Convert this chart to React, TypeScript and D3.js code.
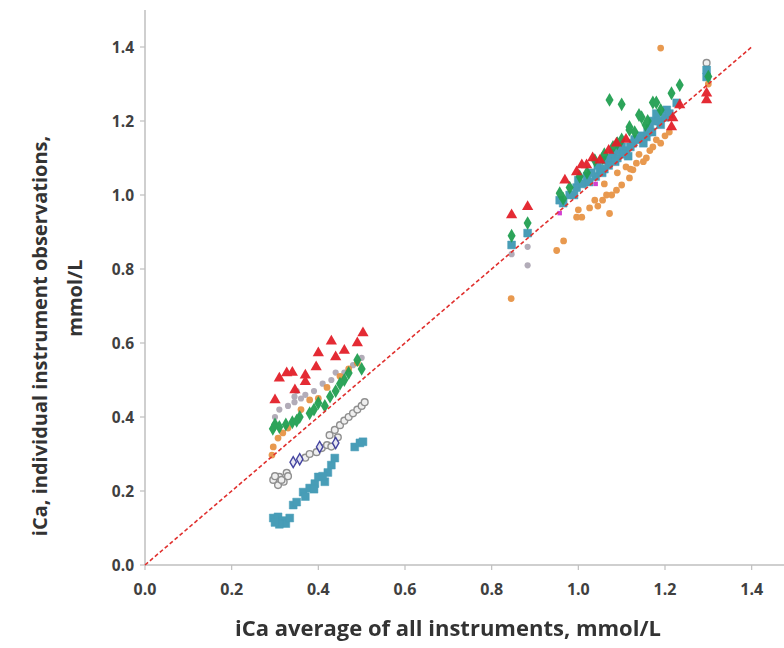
import React from "react";
import * as d3 from "d3";

type P = [number, number];

const xTicks = [0, 0.2, 0.4, 0.6, 0.8, 1.0, 1.2, 1.4];
const yTicks = [0, 0.2, 0.4, 0.6, 0.8, 1.0, 1.2, 1.4];
const identityLine: P[] = [[0, 0], [1.4, 1.4]];

const tealPts: P[] = [
  [0.296, 0.127], [0.307, 0.13], [0.318, 0.12], [0.325, 0.112], [0.334, 0.127], [0.31, 0.11], [0.30, 0.115],
  [0.342, 0.162], [0.35, 0.17], [0.365, 0.197], [0.38, 0.208], [0.392, 0.22], [0.40, 0.238],
  [0.415, 0.225], [0.422, 0.25], [0.43, 0.27], [0.438, 0.289], [0.484, 0.319], [0.496, 0.33], [0.503, 0.333],
  [0.39, 0.205], [0.41, 0.24], [0.37, 0.185],
  [0.846, 0.865], [0.883, 0.897], [0.957, 0.986], [0.965, 0.978], [0.98, 1.0], [0.996, 1.02], [1.0, 1.04],
  [1.02, 1.05], [1.04, 1.05], [1.05, 1.07], [1.065, 1.094], [1.07, 1.08], [1.08, 1.113], [1.09, 1.10],
  [1.10, 1.13], [1.11, 1.12], [1.126, 1.14], [1.14, 1.15], [1.157, 1.157], [1.165, 1.18], [1.172, 1.2],
  [1.18, 1.22], [1.19, 1.19], [1.204, 1.23], [1.227, 1.249], [1.296, 1.319], [1.296, 1.338],
  [0.99, 1.0], [1.01, 1.03], [1.03, 1.06], [1.045, 1.08], [1.06, 1.07], [1.075, 1.1], [1.085, 1.09],
  [1.095, 1.12], [1.105, 1.11], [1.12, 1.13], [1.13, 1.15], [1.145, 1.16], [1.15, 1.14], [1.17, 1.17],
  [1.185, 1.2], [1.2, 1.21], [1.21, 1.22], [1.025, 1.035], [1.055, 1.06], [1.115, 1.105], [1.16, 1.17],
];

const grayOpenPts: P[] = [
  [0.296, 0.23], [0.31, 0.238], [0.327, 0.249], [0.307, 0.216], [0.32, 0.225], [0.37, 0.29], [0.38, 0.30],
  [0.396, 0.305], [0.408, 0.316], [0.42, 0.324], [0.426, 0.351], [0.438, 0.365], [0.45, 0.378], [0.46, 0.39],
  [0.47, 0.40], [0.48, 0.41], [0.49, 0.42], [0.50, 0.43], [0.507, 0.44], [0.30, 0.24], [0.315, 0.23],
  [0.33, 0.24], [0.43, 0.32], [0.445, 0.345], [1.296, 1.357],
];

const purpleOpenPts: P[] = [[0.342, 0.278], [0.357, 0.286], [0.403, 0.319], [0.44, 0.33]];

const grayDotPts: P[] = [
  [0.30, 0.40], [0.31, 0.42], [0.33, 0.43], [0.345, 0.455], [0.345, 0.44], [0.35, 0.47], [0.36, 0.45],
  [0.37, 0.46], [0.39, 0.47], [0.41, 0.49], [0.43, 0.50], [0.44, 0.52], [0.46, 0.52], [0.48, 0.54], [0.50, 0.56],
  [0.883, 0.86], [0.883, 0.81], [0.846, 0.84],
];

const orangePts: P[] = [
  [0.296, 0.319], [0.293, 0.297], [0.307, 0.343], [0.318, 0.357], [0.33, 0.37], [0.38, 0.446], [0.42, 0.48],
  [0.45, 0.51], [0.49, 0.546], [0.40, 0.45], [0.36, 0.42], [0.47, 0.53],
  [0.845, 0.72], [0.95, 0.85], [0.966, 0.876], [0.996, 0.94], [1.008, 0.94], [1.026, 0.965], [1.038, 0.986],
  [1.056, 0.986], [1.072, 0.95], [1.065, 1.0], [1.077, 1.0], [1.088, 1.013], [1.10, 1.027], [1.118, 1.046],
  [1.126, 1.068], [1.11, 1.076], [1.134, 1.086], [1.157, 1.10], [1.172, 1.13], [1.18, 1.149], [1.19, 1.397],
  [1.06, 1.03], [1.09, 1.06], [1.14, 1.11], [1.20, 1.16], [1.30, 1.30], [1.0, 0.96], [1.045, 0.97],
  [1.12, 1.07], [1.15, 1.09], [1.165, 1.12], [1.19, 1.14], [1.21, 1.17],
];

const greenPts: P[] = [
  [0.295, 0.368], [0.31, 0.373], [0.325, 0.38], [0.34, 0.386], [0.357, 0.40], [0.38, 0.41], [0.39, 0.42],
  [0.40, 0.438], [0.415, 0.43], [0.427, 0.455], [0.44, 0.47], [0.45, 0.49], [0.46, 0.50], [0.47, 0.519],
  [0.49, 0.554], [0.50, 0.53], [0.30, 0.38], [0.35, 0.39],
  [0.846, 0.89], [0.883, 0.924], [0.957, 1.005], [0.98, 1.02], [1.003, 1.05], [1.02, 1.06], [1.038, 1.094],
  [1.056, 1.10], [1.08, 1.13], [1.10, 1.15], [1.118, 1.176], [1.13, 1.17], [1.146, 1.21], [1.16, 1.20],
  [1.172, 1.25], [1.072, 1.257], [1.10, 1.245], [1.18, 1.25], [1.215, 1.275], [1.234, 1.297], [1.14, 1.216],
  [1.118, 1.184], [1.30, 1.32], [0.965, 0.99], [1.06, 1.11], [1.09, 1.14], [1.155, 1.19], [1.19, 1.23],
];

const redPts: P[] = [
  [0.30, 0.446], [0.31, 0.505], [0.327, 0.519], [0.34, 0.52], [0.346, 0.473], [0.37, 0.513], [0.37, 0.495],
  [0.395, 0.535], [0.40, 0.573], [0.43, 0.605], [0.44, 0.562], [0.46, 0.58], [0.49, 0.60], [0.503, 0.627],
  [0.846, 0.946], [0.883, 0.968], [0.969, 1.04], [0.996, 1.062], [1.008, 1.081], [1.019, 1.081], [1.033, 1.1],
  [1.05, 1.094], [1.07, 1.12], [1.088, 1.14], [1.11, 1.15], [1.215, 1.184], [1.218, 1.208], [1.234, 1.243],
  [1.296, 1.275], [1.296, 1.257],
];

const magentaPts: P[] = [[0.957, 0.951], [1.04, 1.03]];

const W = 784;
const H = 648;
const x = d3.scaleLinear().domain([0, 1.5]).range([145, 795]);
const y = d3.scaleLinear().domain([0, 1.5]).range([565, 10]);

const FONT = "'Open Sans', 'Liberation Sans', sans-serif";

const sym = (type: d3.SymbolType, size: number) => d3.symbol().type(type).size(size)() as string;

const series = [
  { data: grayOpenPts, path: sym(d3.symbolCircle, 36), fill: "#efefef", stroke: "#8a8a8a", sw: 1.4, op: 0.95 },
  { data: purpleOpenPts, path: sym(d3.symbolDiamond, 36), fill: "#e6e6f2", stroke: "#3c3c9c", sw: 1.4, op: 0.95 },
  { data: tealPts, path: sym(d3.symbolSquare, 62), fill: "#3f98b4", stroke: "#3f98b4", sw: 0.5, op: 0.95 },
  { data: grayDotPts, path: sym(d3.symbolCircle, 30), fill: "#aaa3b0", stroke: "none", sw: 0, op: 0.9 },
  { data: orangePts, path: sym(d3.symbolCircle, 36), fill: "#e68e3c", stroke: "none", sw: 0, op: 0.9 },
  { data: greenPts, path: sym(d3.symbolDiamond, 56), fill: "#22a052", stroke: "none", sw: 0, op: 0.95 },
  { data: redPts, path: sym(d3.symbolTriangle, 55), fill: "#e3202a", stroke: "none", sw: 0, op: 0.95 },
  { data: magentaPts, path: sym(d3.symbolSquare, 20), fill: "#d23fd0", stroke: "none", sw: 0, op: 1 },
];

export default function App() {
  const line = d3.line<P>().x((d) => x(d[0])).y((d) => y(d[1]));
  return (
    <svg width={W} height={H} style={{ position: "absolute", left: 0, top: 0, background: "#fff" }}>
      <line x1={x(0)} x2={784} y1={y(0)} y2={y(0)} stroke="#bfbfbf" strokeWidth={1.5} />
      <line x1={x(0)} x2={x(0)} y1={y(0)} y2={y(1.5)} stroke="#bfbfbf" strokeWidth={1.5} />
      {xTicks.map((t) => (
        <g key={"xt" + t}>
          <line x1={x(t)} x2={x(t)} y1={y(0)} y2={y(0) + 5} stroke="#bfbfbf" strokeWidth={1.2} />
          <text x={x(t)} y={y(0) + 30} textAnchor="middle" fontFamily={FONT} fontWeight={700} fontSize={16} fill="#404040">
            {t.toFixed(1)}
          </text>
        </g>
      ))}
      {yTicks.map((t) => (
        <g key={"yt" + t}>
          <line x1={x(0) - 5} x2={x(0)} y1={y(t)} y2={y(t)} stroke="#bfbfbf" strokeWidth={1.2} />
          <text x={x(0) - 11} y={y(t) + 5.5} textAnchor="end" fontFamily={FONT} fontWeight={700} fontSize={15.5} fill="#404040">
            {t.toFixed(1)}
          </text>
        </g>
      ))}
      {series.map((s, i) => (
        <g key={"s" + i} opacity={s.op}>
          {s.data.map((d, j) => (
            <path key={j} d={s.path} transform={`translate(${x(d[0])},${y(d[1])})`} fill={s.fill} stroke={s.stroke} strokeWidth={s.sw} />
          ))}
        </g>
      ))}
      <path d={line(identityLine) as string} fill="none" stroke="#e0302e" strokeWidth={1.6} strokeDasharray="4,2.5" />
      <text x={448} y={636} textAnchor="middle" fontFamily={FONT} fontWeight={700} fontSize={22} fill="#333">
        iCa average of all instruments, mmol/L
      </text>
      <text transform="translate(47,336) rotate(-90)" textAnchor="middle" fontFamily={FONT} fontWeight={700} fontSize={20} fill="#333">
        iCa, individual instrument observations,
      </text>
      <text transform="translate(82,298) rotate(-90)" textAnchor="middle" fontFamily={FONT} fontWeight={700} fontSize={20} fill="#333">
        mmol/L
      </text>
    </svg>
  );
}
